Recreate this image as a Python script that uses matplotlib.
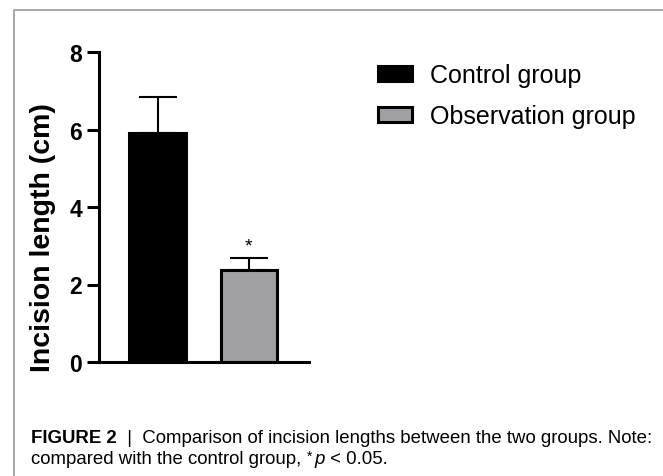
import matplotlib
matplotlib.use("Agg")
import matplotlib.pyplot as plt
from matplotlib.lines import Line2D

plt.rcParams['font.family'] = ['Liberation Sans', 'DejaVu Sans']

groups = ["Control group", "Observation group"]
means = [5.9, 2.37]
sd_up = [0.93, 0.32]
bar_colors = ["#000000", "#a0a0a4"]

fig = plt.figure(figsize=(6.63, 4.77), dpi=100)
ax = fig.add_axes([99 / 663, 1 - 363 / 477, 210 / 663, 310 / 477])

x = [0, 1]
bars = ax.bar(x, means, width=0.62, color=bar_colors, edgecolor="black",
              linewidth=2.2, zorder=2)
ax.errorbar(x, means, yerr=[[0, 0], sd_up], fmt="none", ecolor="black",
            elinewidth=1.5, capsize=14, capthick=1.5, zorder=1)
ax.text(1, means[1] + sd_up[1] + 0.3, "*", ha="center", va="center", fontsize=14)

ax.set_ylim(0, 8)
ax.set_xlim(-0.644, 1.66)
ax.set_yticks([0, 2, 4, 6, 8])
ax.set_xticks([])
for s in ["top", "right"]:
    ax.spines[s].set_visible(False)
for s in ["left", "bottom"]:
    ax.spines[s].set_linewidth(2.2)
ax.tick_params(axis="y", length=8.6, width=2.2, pad=3.5, labelsize=16.5)
for lab in ax.get_yticklabels():
    lab.set_fontweight("bold")

ax.set_ylabel("Incision length (cm)", fontsize=20.5, fontweight="bold",
              ha="center", va="center")
ax.yaxis.set_label_coords(-0.267, 0.406)

fig.legend(bars, groups, loc="upper left", bbox_to_anchor=(378 / 663, 1 - 64 / 477),
           frameon=False, fontsize=18, handlelength=1.36, handleheight=0.55,
           handletextpad=0.72, labelspacing=0.68, borderpad=0, borderaxespad=0)

# frame lines of the figure panel
fig.add_artist(Line2D([14 / 663, 14 / 663, 1], [0, 1 - 11 / 477, 1 - 11 / 477],
                      color="#a0a0a0", linewidth=1.3))

# caption, built from pieces so bold/italic parts sit inline
def chain(prev, txt, **kw):
    return ax.annotate(txt, xy=(1, 0), xycoords=prev, va="bottom", ha="left",
                       fontsize=13.4, annotation_clip=False, **kw)

t = fig.text(31 / 663, 1 - 447 / 477, "FIGURE 2", fontsize=13.4, fontweight="bold",
             va="bottom")
chain(t, "  |  Comparison of incision lengths between the two groups. Note:")
t2 = fig.text(31 / 663, 1 - 468 / 477, "compared with the control group, ",
              fontsize=13.4, va="bottom")
t3 = ax.annotate("*", xy=(1, 0.25), xycoords=t2, va="bottom", ha="left",
                 fontsize=10, annotation_clip=False)
t4 = ax.annotate("p", xy=(1, 0), xycoords=t2, xytext=(6, 0), textcoords="offset points",
                 va="bottom", ha="left", fontsize=13.4, style="italic",
                 annotation_clip=False)
chain(t4, " < 0.05.")

fig.savefig("out.png", dpi=100)
